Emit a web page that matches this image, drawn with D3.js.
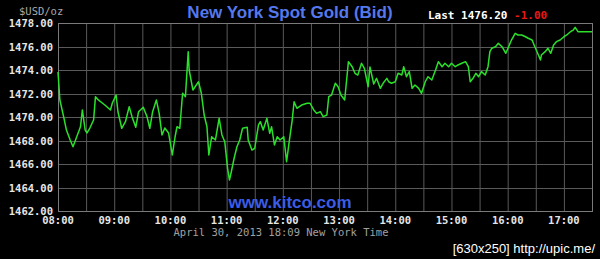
<!DOCTYPE html>
<html>
<head>
<meta charset="utf-8">
<script src="https://cdn.jsdelivr.net/npm/d3@7"></script>
<style>
  body { margin: 0; background: #000; }
  svg { display: block; }
</style>
</head>
<body>
<div id="chart"></div>
<script>
// minutes after 08:00 (New York time)
const minutes = [0, 2, 6, 9, 13, 16, 20, 24, 26, 29, 31, 34, 38, 40, 43, 50, 56, 58, 62, 64, 68, 72, 76, 79, 83, 86, 91, 95, 98, 101,
  105, 108, 111, 114, 118, 122, 125, 127, 130, 133, 136, 139, 140, 144, 150, 153, 156, 159, 161, 164, 168, 172, 175, 178, 181, 183, 185, 188, 191, 194,
  197, 202, 203, 207, 210, 214, 216, 219, 223, 226, 228, 231, 234, 237, 241, 244, 247, 250, 252, 255, 260, 266, 269, 273, 276, 280, 283, 287, 289, 292,
  296, 299, 302, 306, 310, 314, 317, 320, 324, 327, 331, 333, 337, 340, 344, 347, 351, 353, 356, 360, 363, 367, 369, 372, 375, 378, 381, 385, 388, 392,
  395, 399, 403, 406, 410, 413, 417, 420, 424, 427, 431, 435, 438, 440, 443, 446, 449, 452, 456, 459, 461, 463, 467, 470, 474, 478, 481, 484, 488, 491,
  495, 499, 502, 506, 509, 512, 515, 516, 520, 523, 526, 529, 532, 536, 540, 543, 547, 550, 552, 555, 559, 570];
// bid price, $USD/oz
const bid = [1473.83, 1471.45, 1470.03, 1468.89, 1468.04, 1467.47, 1468.32, 1469.17, 1470.60, 1468.89, 1468.64, 1469.06, 1469.74, 1471.73, 1471.45, 1471.02, 1470.60, 1471.19, 1471.87, 1470.45,
  1469.04, 1469.60, 1470.88, 1470.03, 1469.12, 1470.45, 1470.83, 1470.03, 1469.04, 1470.45, 1471.45, 1470.31, 1468.47, 1469.06, 1468.64, 1466.77, 1468.32, 1469.17, 1469.04, 1472.02,
  1471.73, 1475.56, 1474.00, 1472.30, 1473.00, 1472.02, 1470.17, 1469.17, 1466.77, 1468.32, 1468.04, 1469.89, 1468.47, 1467.90, 1465.63, 1464.64, 1465.34, 1466.49, 1467.47, 1468.04,
  1469.04, 1469.12, 1468.04, 1467.19, 1467.34, 1469.32, 1469.60, 1468.89, 1469.89, 1468.61, 1469.17, 1467.62, 1468.32, 1468.04, 1468.32, 1466.20, 1468.04, 1469.74, 1471.30, 1470.74,
  1471.02, 1471.17, 1471.17, 1470.60, 1470.31, 1470.45, 1470.03, 1470.17, 1471.73, 1471.87, 1472.87, 1472.58, 1471.87, 1471.45, 1474.71, 1474.28, 1473.72, 1473.57, 1474.57, 1474.14,
  1472.58, 1474.26, 1472.81, 1473.29, 1472.44, 1472.87, 1473.29, 1473.00, 1472.87, 1473.00, 1473.72, 1473.57, 1474.28, 1473.43, 1473.86, 1472.44, 1472.72, 1472.44, 1472.02, 1473.00,
  1473.43, 1473.15, 1474.00, 1474.71, 1474.28, 1474.57, 1474.28, 1474.57, 1474.28, 1474.43, 1474.57, 1474.71, 1474.28, 1473.00, 1473.29, 1473.72, 1473.43, 1473.86, 1473.57, 1474.28,
  1475.56, 1475.85, 1475.98, 1476.27, 1475.98, 1475.42, 1475.98, 1476.55, 1477.12, 1476.98, 1476.98, 1476.83, 1476.70, 1476.55, 1475.98, 1475.42, 1474.85, 1475.28, 1475.56, 1475.85,
  1475.42, 1476.13, 1476.41, 1476.55, 1476.83, 1476.98, 1477.26, 1477.40, 1477.63, 1477.26, 1477.26, 1477.26];

const yTicks = [1462, 1464, 1466, 1468, 1470, 1472, 1474, 1476, 1478];
const hourLabels = ["08:00", "09:00", "10:00", "11:00", "12:00", "13:00", "14:00", "15:00", "16:00", "17:00"];

const width = 600;
const height = 259;
const margin = { top: 23, right: 8, bottom: 48, left: 58 };

const data = minutes.map((m, i) => ({ m: m, p: bid[i] }));

const svg = d3.select("#chart")
    .append("svg")
    .attr("width", width)
    .attr("height", height)
    .style("background-color", "#000");

const x = d3.scaleLinear()
    .domain([0, 570])
    .range([margin.left, width - margin.right]);

const y = d3.scaleLinear()
    .domain([1462, 1478])
    .range([height - margin.bottom, margin.top]);

const mono = "'DejaVu Sans Mono', monospace";

// grid: every 30 minutes / every $2
const gridX = d3.range(30, 570, 30);
svg.append("g")
    .selectAll("line")
    .data(gridX)
    .enter()
    .append("line")
    .attr("x1", d => x(d) + 0.5)
    .attr("x2", d => x(d) + 0.5)
    .attr("y1", y(1478))
    .attr("y2", y(1462))
    .attr("stroke", "#5a5a5a");

svg.append("g")
    .selectAll("line")
    .data(yTicks.slice(1, -1))
    .enter()
    .append("line")
    .attr("x1", x(0))
    .attr("x2", x(570))
    .attr("y1", d => Math.round(y(d)) + 0.5)
    .attr("y2", d => Math.round(y(d)) + 0.5)
    .attr("stroke", "#5a5a5a");

// plot frame
svg.append("rect")
    .attr("x", x(0) + 0.5)
    .attr("y", y(1478) + 0.5)
    .attr("width", x(570) - x(0))
    .attr("height", y(1462) - y(1478))
    .attr("fill", "none")
    .attr("stroke", "#7a7a7a");

// y labels
svg.append("g")
    .selectAll("text")
    .data(yTicks)
    .enter()
    .append("text")
    .attr("x", 53)
    .attr("y", d => y(d) + 4)
    .attr("text-anchor", "end")
    .style("font-family", mono)
    .style("font-weight", "bold")
    .style("font-size", "10.5px")
    .attr("fill", "#e6e6e6")
    .text(d => d.toFixed(2));

// x labels
svg.append("g")
    .selectAll("text")
    .data(hourLabels)
    .enter()
    .append("text")
    .attr("x", (d, i) => x(i * 60))
    .attr("y", 224)
    .attr("text-anchor", "middle")
    .style("font-family", mono)
    .style("font-weight", "bold")
    .style("font-size", "10.5px")
    .attr("fill", "#e6e6e6")
    .text(d => d);

// watermark
svg.append("text")
    .attr("x", 290)
    .attr("y", 208)
    .attr("text-anchor", "middle")
    .style("font-family", "'Liberation Sans', Arial, sans-serif")
    .style("font-weight", "bold")
    .style("font-size", "17px")
    .attr("fill", "#3b5ce6")
    .text("www.kitco.com");

// price line
const line = d3.line()
    .x(d => x(d.m))
    .y(d => y(d.p));

svg.append("path")
    .datum(data)
    .attr("d", line)
    .attr("fill", "none")
    .attr("stroke", "#2be02b")
    .attr("stroke-width", 1.5)
    .attr("stroke-linejoin", "round");

// title & header
svg.append("text")
    .attr("x", 290)
    .attr("y", 18)
    .attr("text-anchor", "middle")
    .style("font-family", "'Liberation Sans', Arial, sans-serif")
    .style("font-weight", "bold")
    .style("font-size", "17px")
    .attr("fill", "#5578ec")
    .text("New York Spot Gold (Bid)");

svg.append("text")
    .attr("x", 19)
    .attr("y", 15)
    .style("font-family", mono)
    .style("font-size", "10.5px")
    .attr("fill", "#a8a8a8")
    .text("$USD/oz");

const last = svg.append("text")
    .attr("x", 428)
    .attr("y", 19)
    .style("font-family", mono)
    .style("font-weight", "bold")
    .style("font-size", "11px")
    .attr("fill", "#ffffff");
last.append("tspan").text("Last 1476.20 ");
last.append("tspan").attr("fill", "#e81818").text("-1.00");

svg.append("text")
    .attr("x", 281)
    .attr("y", 236)
    .attr("text-anchor", "middle")
    .style("font-family", mono)
    .style("font-size", "10.5px")
    .attr("fill", "#a0a0a0")
    .text("April 30, 2013 18:09 New York Time");

svg.append("text")
    .attr("x", 595)
    .attr("y", 253)
    .attr("text-anchor", "end")
    .style("font-family", "'Liberation Sans', Arial, sans-serif")
    .style("font-size", "13px")
    .attr("fill", "#ffffff")
    .text("[630x250] http://upic.me/");
</script>
</body>
</html>
